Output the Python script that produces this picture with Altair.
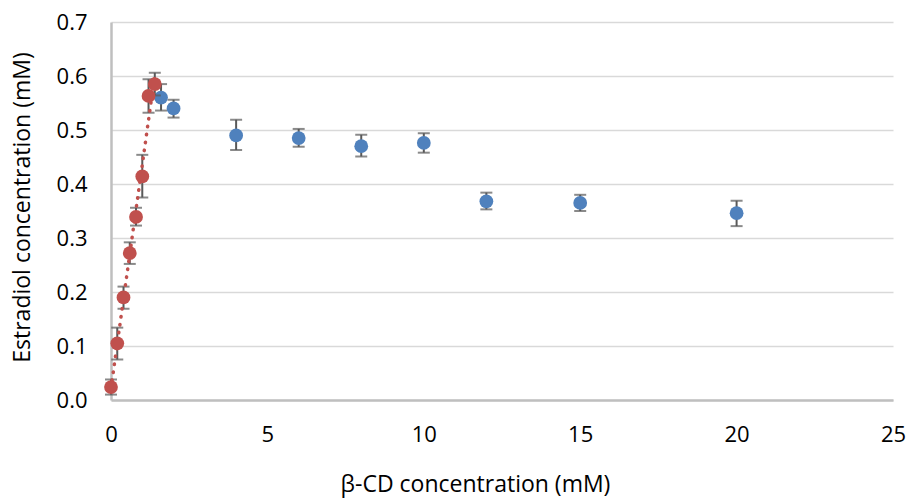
import altair as alt
import pandas as pd

# Blue series (β-CD concentration, mM)
blue_x = [1.6, 2, 4, 6, 8, 10, 12, 15, 20]
blue_y = [0.560, 0.540, 0.490, 0.485, 0.470, 0.476, 0.368, 0.365, 0.346]
blue_lo = [0.536, 0.523, 0.463, 0.469, 0.451, 0.458, 0.353, 0.350, 0.322]
blue_hi = [0.585, 0.556, 0.519, 0.502, 0.491, 0.494, 0.384, 0.380, 0.369]

# Red series
red_x = [0, 0.2, 0.4, 0.6, 0.8, 1.0, 1.2, 1.4]
red_y = [0.024, 0.105, 0.190, 0.272, 0.339, 0.414, 0.563, 0.585]
red_lo = [0.010, 0.075, 0.169, 0.252, 0.323, 0.375, 0.532, 0.564]
red_hi = [0.038, 0.134, 0.210, 0.292, 0.356, 0.454, 0.594, 0.606]

x_ticks = [0, 5, 10, 15, 20, 25]
y_ticks = [0.0, 0.1, 0.2, 0.3, 0.4, 0.5, 0.6, 0.7]

X_TITLE = "β-CD concentration (mM)"
Y_TITLE = "Estradiol concentration  (mM)"

blue = pd.DataFrame({"x": blue_x, "y": blue_y, "lo": blue_lo, "hi": blue_hi})
red = pd.DataFrame({"x": red_x, "y": red_y, "lo": red_lo, "hi": red_hi})

BLUE = "#4F81BD"
RED = "#C0504D"
ERR = "#595959"

xscale = alt.Scale(domain=[0, 25], nice=False)
yscale = alt.Scale(domain=[0, 0.7], nice=False)


def X():
    return alt.X("x:Q", scale=xscale, title=X_TITLE,
                 axis=alt.Axis(values=x_ticks, grid=False, titleX=364, titleY=84,
                               titleBaseline="middle", labelPadding=24, labelFlush=False))


def Y(field):
    return alt.Y(field + ":Q", scale=yscale, title=Y_TITLE,
                 axis=alt.Axis(values=y_ticks, format=".1f", grid=True, titleX=-89,
                               titleY=185, titleBaseline="middle", titleAngle=-90,
                               labelPadding=24, labelFlush=False))


def errorbars(df):
    base = alt.Chart(df)
    rule = base.mark_rule(color=ERR, strokeWidth=2).encode(x=X(), y=Y("lo"), y2="hi:Q")
    lo = base.mark_tick(color=ERR, thickness=2, size=12, orient="horizontal").encode(x=X(), y=Y("lo"))
    hi = base.mark_tick(color=ERR, thickness=2, size=12, orient="horizontal").encode(x=X(), y=Y("hi"))
    return [rule, lo, hi]


blue_pts = alt.Chart(blue).mark_circle(color=BLUE, opacity=1, size=190).encode(x=X(), y=Y("y"))
red_pts = alt.Chart(red).mark_circle(color=RED, opacity=1, size=190).encode(x=X(), y=Y("y"))

trend = alt.Chart(red).transform_regression("x", "y", extent=[0, 1.4]).mark_line(
    color=RED, strokeWidth=3.5, strokeDash=[0.5, 7.5], strokeCap="round"
).encode(x=X(), y=Y("y"))

chart = alt.layer(
    *errorbars(blue), blue_pts, *errorbars(red), trend, red_pts
).properties(
    width=782, height=378,
    padding={"left": 111, "top": 22, "right": 14, "bottom": 100},
    autosize=alt.AutoSizeParams(type="none"),
    background="white",
).configure_view(stroke=None).configure_axis(
    labelFont="Open Sans", labelFontSize=22, labelColor="#000000",
    titleFont="Open Sans", titleFontSize=23, titleColor="#000000", titleFontWeight="normal",
    ticks=False, domainColor="#BFBFBF", domainWidth=2.5,
    gridColor="#D9D9D9", gridWidth=1.5,
)

chart.save("out.html", embed_options={"renderer": "svg", "actions": False})
